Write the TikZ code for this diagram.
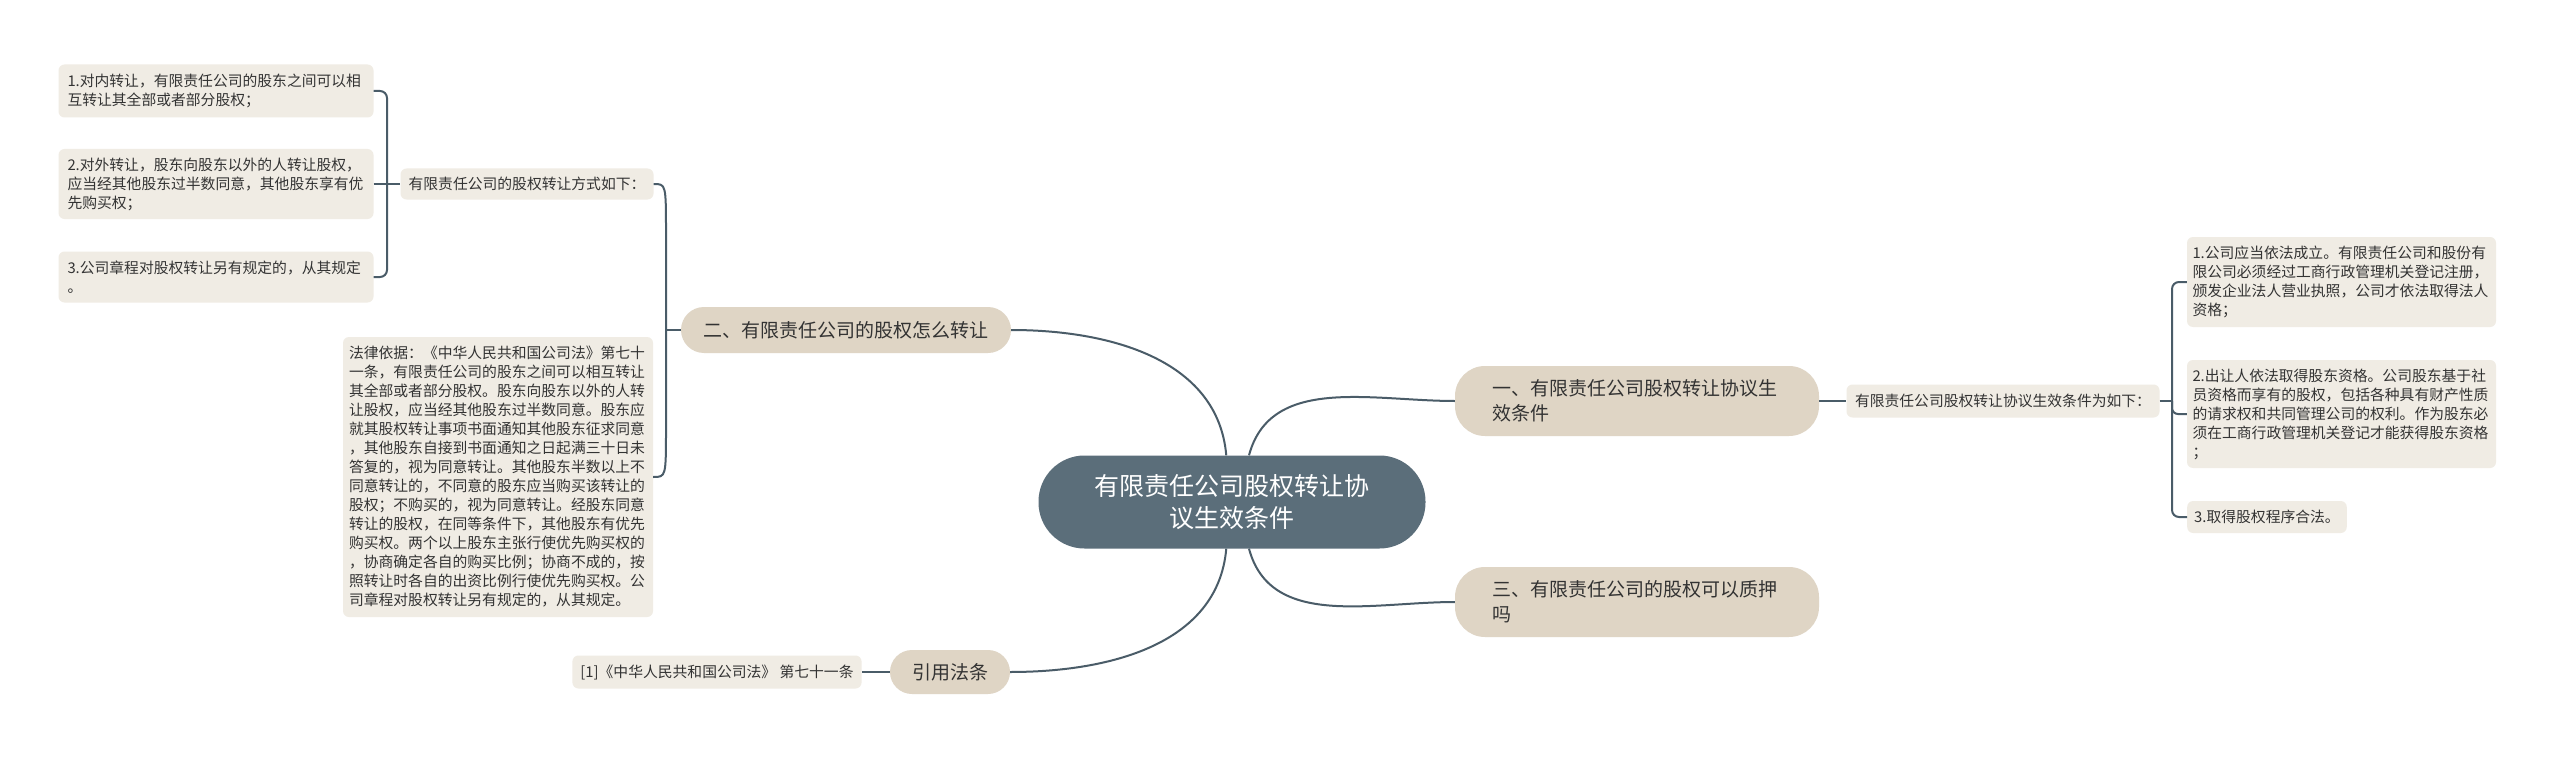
\documentclass[tikz,border=0pt]{standalone}
\usepackage{fontspec}
\setmainfont{Noto Sans CJK SC}
\definecolor{slate}{HTML}{5B6E7A}
\definecolor{sand}{HTML}{DFD5C5}
\definecolor{paper}{HTML}{F0ECE4}
\definecolor{wire}{HTML}{4A5C68}
\definecolor{ink}{HTML}{333333}
\begin{document}
\begin{tikzpicture}[x=1pt,y=1pt,
    link/.style={draw=wire, line width=2pt},
    root/.style={fill=slate, text=white, rounded corners=46pt, align=center,
      minimum width=387pt, minimum height=93pt, font=\fontsize{25}{32}\selectfont},
    branch/.style={fill=sand, text=ink, inner xsep=0pt, inner ysep=0pt,
      font=\fontsize{19}{25}\selectfont},
    leaf/.style={fill=paper, text=ink, rounded corners=6pt, inner xsep=8pt,
      inner ysep=0pt, align=left, font=\fontsize{14.8}{19}\selectfont}]
  \useasboundingbox[fill=white] (0,0) rectangle (2560,-757);

  % centre and main branches
  \node[root] (ctr) at (1232,-502) {有限责任公司股权转让协\\议生效条件};
  \node[branch, rounded corners=30pt, minimum width=364pt, minimum height=70pt,
    text width=290pt, align=left] (one) at (1637,-401) {一、有限责任公司股权转让协议生\\效条件};
  \node[branch, rounded corners=30pt, minimum width=364pt, minimum height=70pt,
    text width=290pt, align=left] (three) at (1637,-602) {三、有限责任公司的股权可以质押\\吗};
  \node[branch, rounded corners=23pt, minimum width=330pt, minimum height=46pt]
    (er) at (846,-330) {二、有限责任公司的股权怎么转让};
  \node[branch, rounded corners=22pt, minimum width=120pt, minimum height=44pt]
    (cite) at (950,-672) {引用法条};

  % left side
  \node[leaf, minimum width=253pt, minimum height=31pt] (way) at (527,-184)
    {有限责任公司的股权转让方式如下：};
  \node[leaf, inner xsep=9pt, text width=297pt, minimum height=53pt] (l1) at (216,-91)
    {1.对内转让，有限责任公司的股东之间可以相\\互转让其全部或者部分股权；};
  \node[leaf, inner xsep=9pt, text width=297pt, minimum height=70pt] (l2) at (216,-184)
    {2.对外转让，股东向股东以外的人转让股权，\\应当经其他股东过半数同意，其他股东享有优\\先购买权；};
  \node[leaf, inner xsep=9pt, text width=297pt, minimum height=51pt] (l3) at (216,-277)
    {3.公司章程对股权转让另有规定的，从其规定\\。};
  \node[leaf, inner xsep=6pt, text width=298pt, minimum height=280pt] (legal) at (498,-477)
    {法律依据：《中华人民共和国公司法》第七十\\一条，有限责任公司的股东之间可以相互转让\\其全部或者部分股权。股东向股东以外的人转\\让股权，应当经其他股东过半数同意。股东应\\就其股权转让事项书面通知其他股东征求同意\\，其他股东自接到书面通知之日起满三十日未\\答复的，视为同意转让。其他股东半数以上不\\同意转让的，不同意的股东应当购买该转让的\\股权；不购买的，视为同意转让。经股东同意\\转让的股权，在同等条件下，其他股东有优先\\购买权。两个以上股东主张行使优先购买权的\\，协商确定各自的购买比例；协商不成的，按\\照转让时各自的出资比例行使优先购买权。公\\司章程对股权转让另有规定的，从其规定。};
  \node[leaf, minimum width=289pt, minimum height=33pt] (ref) at (717,-672)
    {[1]《中华人民共和国公司法》 第七十一条};

  % right side
  \node[leaf, minimum width=313pt, minimum height=33pt] (cond) at (2003,-401)
    {有限责任公司股权转让协议生效条件为如下：};
  \node[leaf, inner xsep=5.5pt, text width=298pt, minimum height=90pt] (r1) at (2341.5,-282)
    {1.公司应当依法成立。有限责任公司和股份有\\限公司必须经过工商行政管理机关登记注册，\\颁发企业法人营业执照，公司才依法取得法人\\资格；};
  \node[leaf, inner xsep=5.5pt, text width=298pt, minimum height=108pt] (r2) at (2341.5,-414)
    {2.出让人依法取得股东资格。公司股东基于社\\员资格而享有的股权，包括各种具有财产性质\\的请求权和共同管理公司的权利。作为股东必\\须在工商行政管理机关登记才能获得股东资格\\；};
  \node[leaf, inner xsep=7pt, minimum height=32pt, anchor=west] (r3) at (2187,-517)
    {3.取得股权程序合法。};

  % connectors from the centre
  \draw[link] (ctr.70) to[out=75,in=180] (one.west);
  \draw[link] (ctr.-70) to[out=-75,in=180] (three.west);
  \draw[link] (ctr.97) to[out=95,in=0] (er.east);
  \draw[link] (ctr.-97) to[out=-95,in=0] (cite.east);

  % left brackets
  \coordinate (lspine) at (387,-184);
  \draw[link, rounded corners=7pt] (l1.east) -| (lspine) |- (l3.east);
  \draw[link] (l2.east) -- (way.west);
  \coordinate (erspine) at (666,-330);
  \draw[link] (way.east) .. controls (way.east -| erspine) .. ([yshift=-50pt]way.east -| erspine)
    -- ([yshift=50pt]legal.east -| erspine) .. controls (legal.east -| erspine) .. (legal.east);
  \draw[link] (er.west) -- (erspine);
  \draw[link] (ref.east) -- (cite.west);

  % right bracket
  \draw[link] (one.east) -- (cond.west);
  \coordinate (rspine) at (2172,-401);
  \draw[link, rounded corners=7pt] (r1.west) -| (rspine) |- (r3.west);
  \draw[link] (cond.east) -- (rspine);
  \draw[link, rounded corners=6pt] (rspine) |- (r2.west);
\end{tikzpicture}
\end{document}
